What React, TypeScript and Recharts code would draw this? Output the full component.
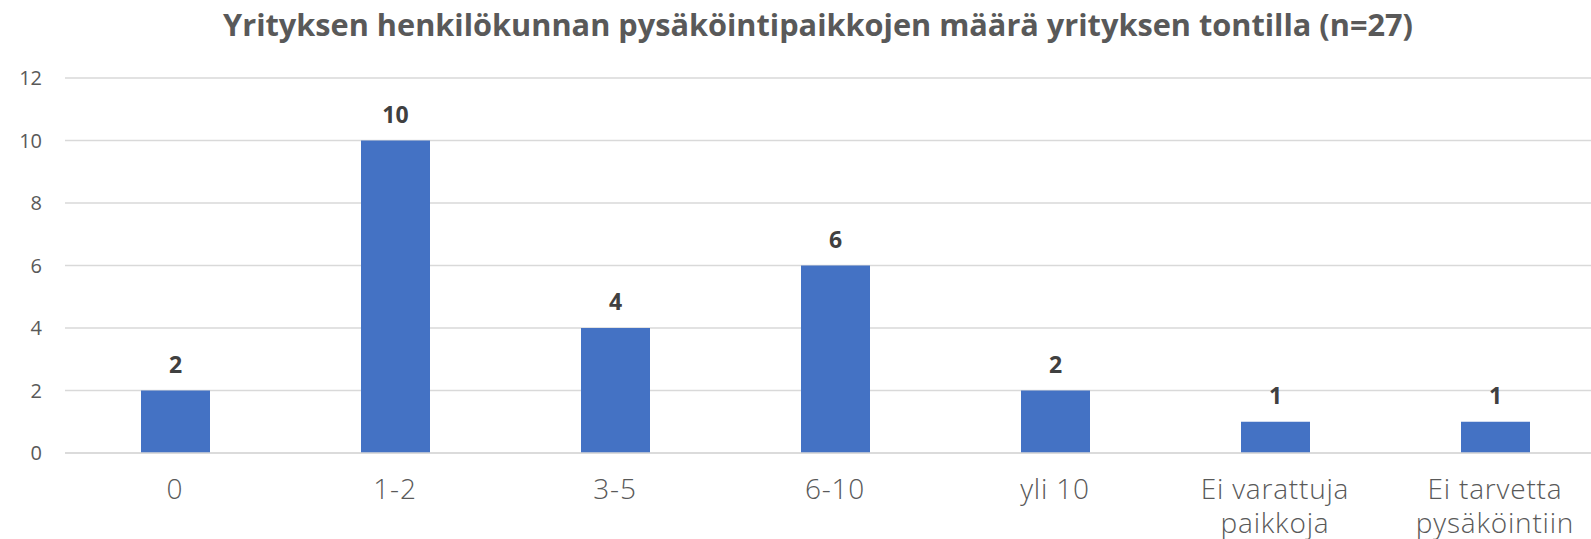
import * as React from "react";
import { BarChart, Bar, XAxis, YAxis, CartesianGrid, LabelList } from "recharts";

const categories = [
  "0",
  "1-2",
  "3-5",
  "6-10",
  "yli 10",
  "Ei varattuja paikkoja",
  "Ei tarvetta pysäköintiin",
];
const counts = [2, 10, 4, 6, 2, 1, 1];
const yTicks = [0, 2, 4, 6, 8, 10, 12];

const title = "Yrityksen henkilökunnan pysäköintipaikkojen määrä yrityksen tontilla (n=27)";

const data = categories.map((name, i) => ({ name, value: counts[i] }));

function splitLabel(label: string): string[] {
  const words = label.split(" ");
  if (words.length <= 2) return [label];
  return [words.slice(0, 2).join(" "), words.slice(2).join(" ")];
}

function CategoryTick(props: any) {
  const { x, payload } = props;
  const lines = splitLabel(String(payload.value));
  return (
    <text
      x={x}
      y={499}
      textAnchor="middle"
      fill="#595959"
      fontFamily="'Open Sans', sans-serif"
      fontWeight={300}
      fontSize={28}
      letterSpacing={0.8}
    >
      {lines.map((line, i) => (
        <tspan key={i} x={x} dy={i === 0 ? 0 : 34}>
          {line}
        </tspan>
      ))}
    </text>
  );
}

export default function App() {
  return (
    <div
      style={{
        position: "absolute",
        left: 0,
        top: 0,
        width: 1591,
        height: 539,
        background: "#fff",
        overflow: "hidden",
      }}
    >
      <div
        style={{
          position: "absolute",
          left: 0,
          top: 3,
          width: 1636,
          textAlign: "center",
          fontFamily: "'Open Sans', sans-serif",
          fontWeight: 700,
          fontSize: 30.7,
          color: "#595959",
          whiteSpace: "nowrap",
        }}
      >
        {title}
      </div>
      <BarChart
        width={1605}
        height={539}
        data={data}
        margin={{ top: 78, right: 0, left: 0, bottom: 0 }}
      >
        <CartesianGrid vertical={false} stroke="#d9d9d9" strokeWidth={1.5} />
        <XAxis
          dataKey="name"
          height={86}
          axisLine={{ stroke: "#d9d9d9", strokeWidth: 1.5 }}
          tickLine={false}
          interval={0}
          tick={<CategoryTick />}
        />
        <YAxis
          width={65}
          domain={[0, 12]}
          ticks={yTicks}
          axisLine={false}
          tickLine={false}
          tickSize={0}
          tickMargin={23}
          tick={{ fill: "#595959", fontSize: 20, fontFamily: "'Open Sans', sans-serif" }}
        />
        <Bar dataKey="value" fill="#4472C4" barSize={69} isAnimationActive={false}>
          <LabelList
            dataKey="value"
            position="top"
            offset={18}
            fill="#404040"
            fontSize={23}
            fontWeight={700}
            fontFamily="'Open Sans', sans-serif"
          />
        </Bar>
      </BarChart>
    </div>
  );
}
